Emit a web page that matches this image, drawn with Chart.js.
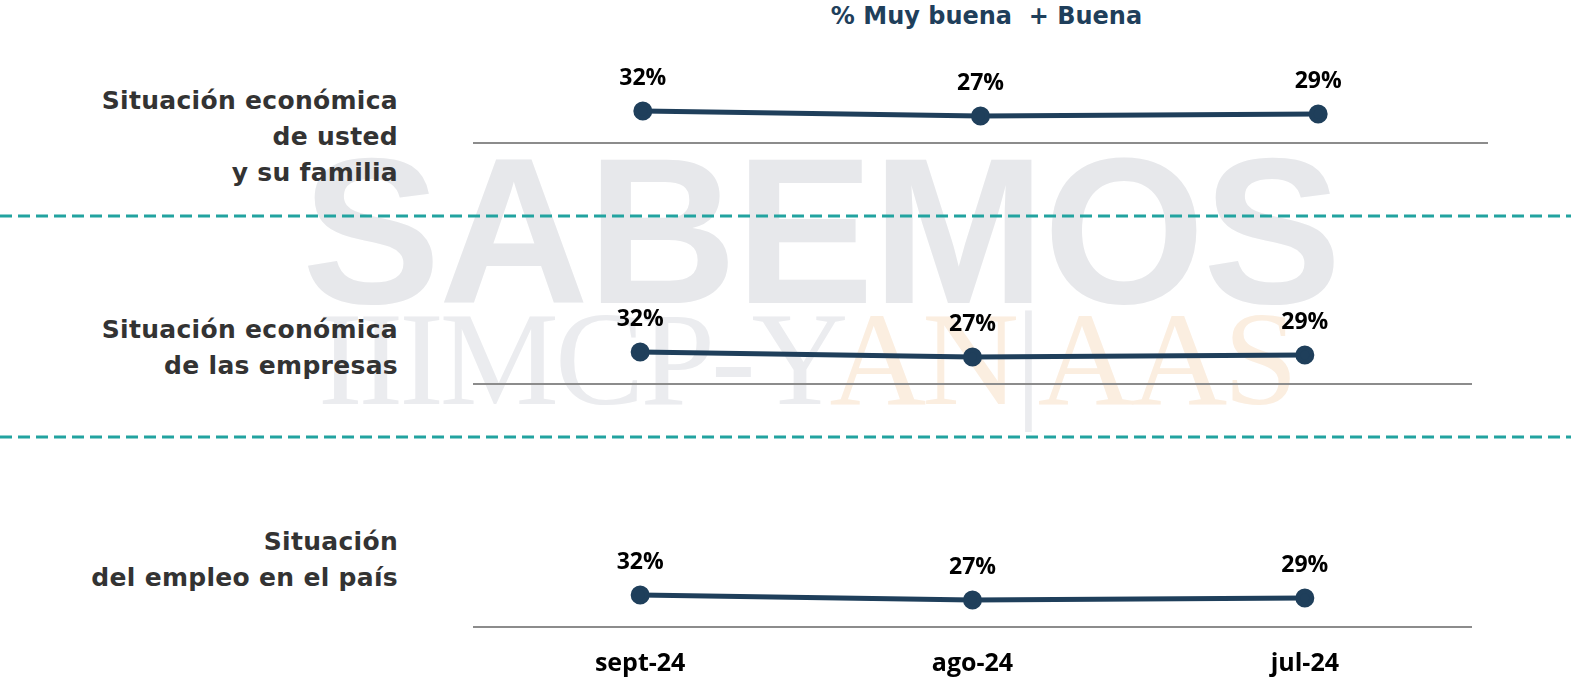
<!DOCTYPE html>
<html>
<head>
<meta charset="utf-8">
<script src="https://cdn.jsdelivr.net/npm/chart.js@4.4.1/dist/chart.umd.min.js"></script>
<style>
  body { margin: 0; width: 1571px; height: 679px; background: #fff; position: relative; overflow: hidden; font-family: "Open Sans", sans-serif; }
  .wm1 { position: absolute; left: 302px; top: 112px; font: bold 208px "Liberation Sans", sans-serif; color: #e7e8eb; letter-spacing: -2px; white-space: nowrap; }
  .wm2 { position: absolute; left: 318px; top: 282px; font: 134px "Liberation Serif", serif; color: #ebecef; white-space: nowrap; letter-spacing: -4px; }
  .wm2 span { color: #fbeee0; }
  .title { position: absolute; left: 0; width: 1973px; top: 2px; text-align: center; font: bold 24px "DejaVu Sans", sans-serif; color: #1f3f5b; white-space: pre; }
  .lbl { position: absolute; right: 1173px; text-align: right; font: bold 25px "DejaVu Sans", sans-serif; letter-spacing: 0.3px; line-height: 36px; color: #333; white-space: nowrap; }
  .panel { position: absolute; left: 0; width: 1571px; }
  svg { position: absolute; left: 0; top: 0; }
</style>
</head>
<body>
<div class="wm1">SABEMOS</div>
<div class="wm2">IIIMCP-Y<span>AN</span>|<span>AAS</span></div>
<div class="title">% Muy buena  + Buena</div>
<svg width="1571" height="679">
  <line x1="0" y1="216" x2="1571" y2="216" stroke="#22a3a0" stroke-width="3" stroke-dasharray="12 6"/>
  <line x1="0" y1="437" x2="1571" y2="437" stroke="#22a3a0" stroke-width="3" stroke-dasharray="12 6"/>
</svg>
<div class="lbl" style="top:83px">Situación económica<br>de usted<br>y su familia</div>
<div class="lbl" style="top:312px">Situación económica<br>de las empresas</div>
<div class="lbl" style="top:524px">Situación<br>del empleo en el país</div>
<div class="panel" id="p1" style="top:43px;height:120px"><canvas id="c1"></canvas></div>
<div class="panel" id="p2" style="top:284px;height:120px"><canvas id="c2"></canvas></div>
<div class="panel" id="p3" style="top:527px;height:152px"><canvas id="c3"></canvas></div>
<script>
const months = ['sept-24', 'ago-24', 'jul-24'];
const situacionFamilia = [32, 27, 29];
const situacionEmpresas = [32, 27, 29];
const situacionEmpleo = [32, 27, 29];

const navy = '#1f3f5b';

// draws the "32%" labels above each point
const pointLabels = {
  id: 'pointLabels',
  afterDatasetsDraw(chart) {
    const ctx = chart.ctx;
    const meta = chart.getDatasetMeta(0);
    ctx.save();
    ctx.font = 'bold 23px "Open Sans", sans-serif';
    ctx.fillStyle = '#000';
    ctx.textAlign = 'center';
    ctx.textBaseline = 'middle';
    meta.data.forEach((pt, i) => {
      ctx.fillText(chart.data.datasets[0].data[i] + '%', pt.x, pt.y - 33);
    });
    ctx.restore();
  }
};

function makePanel(id, values, rightEnd, showTicks) {
  new Chart(document.getElementById(id), {
    type: 'line',
    data: {
      labels: months,
      datasets: [{
        data: values,
        borderColor: navy,
        backgroundColor: navy,
        borderWidth: 5,
        pointRadius: 7,
        pointHoverRadius: 7,
        tension: 0,
        clip: false,
        fill: false
      }]
    },
    options: {
      responsive: true,
      maintainAspectRatio: false,
      animation: false,
      events: [],
      layout: { padding: { left: 474, right: 1571 - rightEnd, top: 40, bottom: showTicks ? 0 : 20 } },
      plugins: { legend: { display: false }, tooltip: { enabled: false } },
      scales: {
        x: {
          offset: true,
          grid: { display: false, drawTicks: false },
          border: { display: true, color: '#8c8c8c', width: 2 },
          ticks: {
            display: showTicks,
            padding: 22,
            color: '#000',
            font: { family: 'Open Sans', size: 25, weight: 'bold' }
          },
          afterFit(scale) { scale.height = showTicks ? 52 : 0; }
        },
        y: { display: false, min: 0, max: 60 }
      }
    },
    plugins: [pointLabels]
  });
}

makePanel('c1', situacionFamilia, 1487, false);
makePanel('c2', situacionEmpresas, 1471, false);
makePanel('c3', situacionEmpleo, 1471, true);
</script>
</body>
</html>
